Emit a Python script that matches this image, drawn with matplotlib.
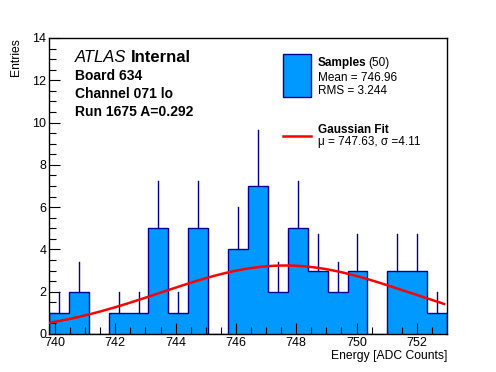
import numpy as np
import matplotlib
matplotlib.use("Agg")
import matplotlib.pyplot as plt

plt.rcParams['font.family'] = ['Liberation Sans', 'DejaVu Sans']

# histogram data (20 bins, 739.8 .. 753.0)
bin_lo = 739.8
bin_hi = 753.0
counts = [1, 2, 0, 1, 1, 5, 1, 5, 0, 4, 7, 2, 5, 3, 2, 3, 0, 3, 3, 1]

# gaussian fit result
fit_amp = 3.24
fit_mu = 747.63
fit_sigma = 4.11

n_samples = 50
mean = 746.96
rms = 3.244

fill_col = "#0099ff"
edge_col = "#000099"

edges = np.linspace(bin_lo, bin_hi, len(counts) + 1)
centers = 0.5 * (edges[:-1] + edges[1:])
counts = np.array(counts, dtype=float)

fig = plt.figure(figsize=(4.96, 3.72), dpi=100)
ax = fig.add_axes([49/496, 38/372, 398/496, 296/372])

ax.stairs(counts, edges, fill=True, color=fill_col, zorder=1)
ax.stairs(counts, edges, baseline=0, color=edge_col, lw=1.0, zorder=2)

# upward error bars
for c, n in zip(centers, counts):
    if n > 0:
        ax.plot([c, c], [n, n + np.sqrt(n)], color=edge_col, lw=1.0, zorder=2)

xf = np.linspace(bin_lo, bin_hi - 0.1, 300)
yf = fit_amp * np.exp(-0.5 * ((xf - fit_mu) / fit_sigma) ** 2)
ax.plot(xf, yf, color="red", lw=1.8, zorder=3)

ax.set_xlim(bin_lo, bin_hi)
ax.set_ylim(0, 14)
ax.set_xticks(np.arange(740, 753, 2))
ax.set_xticks(np.arange(740, 753, 0.5), minor=True)
ax.set_yticks(np.arange(0, 15, 2))
ax.set_yticks(np.arange(0, 14.1, 0.5), minor=True)
ax.tick_params(which='both', direction='in', top=False, right=False, labelsize=9, pad=2)
ax.tick_params(which='major', length=8, width=0.8)
ax.tick_params(which='minor', length=5, width=0.8)
for s in ax.spines.values():
    s.set_linewidth(1.0)

ax.set_xlabel("Energy [ADC Counts]", fontsize=8.7, loc='right', labelpad=1)
ax.set_ylabel("Entries", fontsize=8.7, loc='top', labelpad=7)

# labels on the left
fig.text(75/496, 1 - 62/372, "ATLAS", fontsize=12, style='italic')
fig.text(131/496, 1 - 62/372, "Internal", fontsize=12, fontweight='bold')
fig.text(75/496, 1 - 80/372, "Board 634", fontsize=10, fontweight='bold')
fig.text(75/496, 1 - 98/372, "Channel 071 lo", fontsize=10, fontweight='bold')
fig.text(75/496, 1 - 116/372, "Run 1675 A=0.292", fontsize=10, fontweight='bold')

# legend drawn by hand
box = plt.Rectangle((283/496, 1 - 97/372), 28/496, 43/372, transform=fig.transFigure,
                    facecolor=fill_col, edgecolor=edge_col, lw=1.0)
fig.patches.append(box)
fig.text(318/496, 1 - 66/372, "Samples", fontsize=8.5, fontweight='bold')
fig.text(368.5/496, 1 - 66/372, "(%d)" % n_samples, fontsize=8.5)
fig.text(318/496, 1 - 81/372, "Mean = %.2f" % mean, fontsize=8.5)
fig.text(318/496, 1 - 94/372, "RMS = %.3f" % rms, fontsize=8.5)
fig.add_artist(plt.Line2D([283/496, 311/496], [1 - 136/372, 1 - 136/372], color="red", lw=1.8))
fig.text(318/496, 1 - 133/372, "Gaussian Fit", fontsize=8.5, fontweight='bold')
fig.text(318/496, 1 - 145.5/372, "μ = %.2f, σ =%.2f" % (fit_mu, fit_sigma), fontsize=8.5)

fig.savefig("out.png", dpi=100)
